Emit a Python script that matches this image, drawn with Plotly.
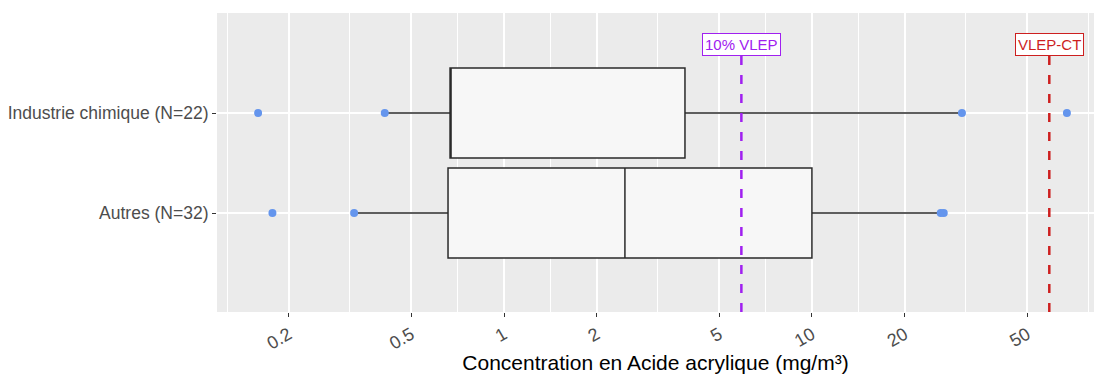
import math
import plotly.graph_objects as go

# ---- data ----
categories = ["Autres (N=32)", "Industrie chimique (N=22)"]
lowerfence = [0.326, 0.41]
q1 = [0.658, 0.668]
median = [2.47, 0.668]
q3 = [10.0, 3.87]
upperfence = [26.4, 30.7]

points_autres = [0.177, 0.326, 26.2, 26.8]
points_industrie = [0.159, 0.41, 30.7, 67.3]

vlep_10 = 5.9
vlep_ct = 59.0
vlep_labels = ["10% VLEP", "VLEP-CT"]

x_ticks = [0.2, 0.5, 1, 2, 5, 10, 20, 50]
x_ticktext = ["0.2", "0.5", "1", "2", "5", "10", "20", "50"]
x_minor = [0.1265, 0.316, 0.707, 1.414, 3.16, 7.07, 14.14, 31.6, 79.1]

FONT = "Liberation Sans, Arial, sans-serif"

fig = go.Figure()

fig.add_trace(go.Box(
    y=categories, q1=q1, median=median, q3=q3,
    lowerfence=lowerfence, upperfence=upperfence,
    orientation="h", boxpoints=False, width=0.9, whiskerwidth=0,
    fillcolor="#F7F7F7", line=dict(color="#2A2A2A", width=1.5),
    hoverinfo="skip", showlegend=False,
))

fig.add_trace(go.Scatter(
    x=points_autres, y=[categories[0]] * len(points_autres), mode="markers",
    marker=dict(color="#6495ED", size=8), showlegend=False, hoverinfo="skip",
))
fig.add_trace(go.Scatter(
    x=points_industrie, y=[categories[1]] * len(points_industrie), mode="markers",
    marker=dict(color="#6495ED", size=8), showlegend=False, hoverinfo="skip",
))

for val, col, lab in [(vlep_10, "#A020F0", vlep_labels[0]), (vlep_ct, "#CD1F1F", vlep_labels[1])]:
    fig.add_shape(type="line", xref="x", yref="paper", x0=val, x1=val, y0=0, y1=0.92,
                  line=dict(color=col, width=2.5, dash="9px,10px"), layer="above")
    fig.add_annotation(x=math.log10(val), xref="x", y=0.933, yref="paper",
                       text=lab, showarrow=False,
                       font=dict(family=FONT, size=15, color=col),
                       bgcolor="#FFFFFF", bordercolor=col, borderwidth=1, borderpad=2)

fig.update_layout(
    width=1094, height=374,
    margin=dict(l=217, r=0, t=13, b=62),
    paper_bgcolor="#FFFFFF", plot_bgcolor="#EBEBEB",
    font=dict(family=FONT, color="#4D4D4D"),
    showlegend=False,
)

fig.update_xaxes(
    type="log", range=[-0.932, 1.916],
    tickmode="array", tickvals=x_ticks, ticktext=x_ticktext, tickangle=-30,
    tickfont=dict(size=18, color="#4D4D4D", family=FONT),
    ticks="outside", ticklen=4, tickcolor="#333333", tickwidth=1,
    showgrid=True, gridcolor="#FFFFFF", gridwidth=1.5,
    minor=dict(tickvals=x_minor, showgrid=True, gridcolor="#FFFFFF", gridwidth=0.7, ticks=""),
    zeroline=False, showline=False,
    title=dict(text="Concentration en Acide acrylique (mg/m³)",
               font=dict(size=21, color="#000000", family=FONT), standoff=2),
)

fig.update_yaxes(
    type="category", categoryorder="array", categoryarray=categories,
    range=[-0.99, 2.0],
    tickfont=dict(size=17.5, color="#4D4D4D", family=FONT),
    ticks="outside", ticklen=4, tickcolor="#333333", tickwidth=1,
    showgrid=True, gridcolor="#FFFFFF", gridwidth=1.5,
    zeroline=False, showline=False,
)

fig.write_html("out.html")
